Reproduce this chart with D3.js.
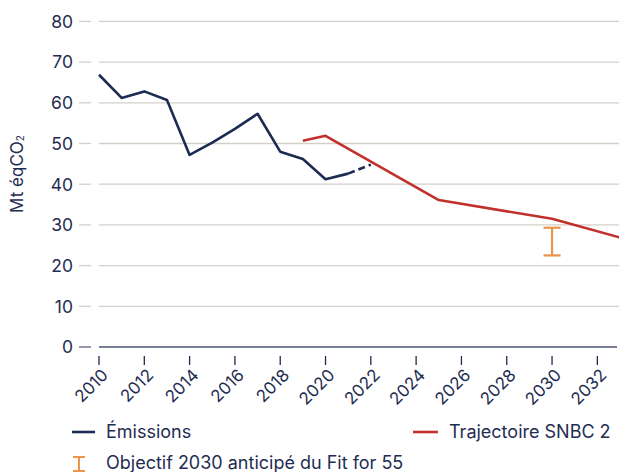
<!DOCTYPE html>
<html><head><meta charset="utf-8">
<script src="https://cdn.jsdelivr.net/npm/d3@7"></script>
<style>
body{margin:0;background:#fff;}
svg text{font-family:"Inter","Open Sans",sans-serif;fill:#1f2d52;}
</style></head>
<body><svg id="c" width="619" height="472"></svg>
<script>
const emissionYears = [2010,2011,2012,2013,2014,2015,2016,2017,2018,2019,2020,2021];
const emissionValues = [66.9,61.2,62.8,60.7,47.2,50.2,53.6,57.3,48.0,46.2,41.2,42.6];
const estimateYears = [2021,2022];
const estimateValues = [42.6,44.8];
const snbcYears = [2019,2020,2025,2030,2033];
const snbcValues = [50.7,51.9,36.1,31.5,26.9];
const targetYear = 2030;
const targetRange = [22.5,29.3];
const yTicks = [0,10,20,30,40,50,60,70,80];
const xTicks = [2010,2012,2014,2016,2018,2020,2022,2024,2026,2028,2030,2032];
const legendLabels = ["Émissions","Trajectoire SNBC 2","Objectif 2030 anticipé du Fit for 55"];

const navy="#1b2b52", red="#c1312c", orange="#e9954b", grid="#d3d0c8";
const svg=d3.select("#c");
const x=d3.scaleLinear().domain([2010,2033]).range([99,620]);
const y=d3.scaleLinear().domain([0,80]).range([347,21.4]);

const yg=svg.append("g");
yTicks.forEach(v=>{
  if(v>0) yg.append("line").attr("x1",99).attr("x2",619).attr("y1",y(v)).attr("y2",y(v)).attr("stroke",grid).attr("stroke-width",1.3);
  yg.append("line").attr("x1",79).attr("x2",91).attr("y1",y(v)).attr("y2",y(v)).attr("stroke",v===0?"#5a6480":grid).attr("stroke-width",1.3);
  yg.append("text").attr("x",73).attr("y",y(v)).attr("dy","0.36em").attr("text-anchor","end").attr("font-size",17.5).text(v);
});
svg.append("line").attr("x1",99).attr("x2",617).attr("y1",y(0)).attr("y2",y(0)).attr("stroke","#4a5572").attr("stroke-width",1.5);
xTicks.forEach(t=>{
  svg.append("line").attr("x1",x(t)).attr("x2",x(t)).attr("y1",356).attr("y2",365).attr("stroke",navy).attr("stroke-width",1.3);
  svg.append("text").attr("transform",`translate(${x(t)+6},${372}) rotate(-45)`).attr("dy","0.35em").attr("text-anchor","end").attr("font-size",17).text(t);
});
svg.append("text").attr("transform","translate(23,174) rotate(-90)").attr("text-anchor","middle").attr("font-size",17)
  .html('Mt éqCO<tspan font-size="10" dy="1">2</tspan>');

const line=d3.line().x(d=>x(d[0])).y(d=>y(d[1]));
svg.append("path").datum(emissionYears.map((d,i)=>[d,emissionValues[i]])).attr("d",line).attr("fill","none").attr("stroke",navy).attr("stroke-width",2.6).attr("stroke-linejoin","round");
svg.append("path").datum(estimateYears.map((d,i)=>[d,estimateValues[i]])).attr("d",line).attr("fill","none").attr("stroke",navy).attr("stroke-width",2.6).attr("stroke-dasharray","7,4");
svg.append("path").datum(snbcYears.map((d,i)=>[d,snbcValues[i]])).attr("d",line).attr("fill","none").attr("stroke",red).attr("stroke-width",2.6).attr("stroke-linejoin","round");
const tb=svg.append("g").attr("stroke",orange).attr("stroke-width",2.2);
tb.append("line").attr("x1",x(targetYear)).attr("x2",x(targetYear)).attr("y1",y(targetRange[0])).attr("y2",y(targetRange[1]));
[0,1].forEach(i=>tb.append("line").attr("x1",x(targetYear)-8.5).attr("x2",x(targetYear)+8.5).attr("y1",y(targetRange[i])).attr("y2",y(targetRange[i])));

const lg=svg.append("g");
lg.append("line").attr("x1",72).attr("x2",95).attr("y1",432).attr("y2",432).attr("stroke",navy).attr("stroke-width",2.6);
lg.append("text").attr("x",106).attr("y",438).attr("font-size",18).text(legendLabels[0]);
lg.append("line").attr("x1",413).attr("x2",438).attr("y1",432).attr("y2",432).attr("stroke",red).attr("stroke-width",2.6);
lg.append("text").attr("x",449).attr("y",438).attr("font-size",18).text(legendLabels[1]);
const lo=lg.append("g").attr("stroke",orange).attr("stroke-width",2);
lo.append("line").attr("x1",79).attr("x2",79).attr("y1",457).attr("y2",471);
lo.append("line").attr("x1",73).attr("x2",85).attr("y1",457).attr("y2",457);
lo.append("line").attr("x1",73).attr("x2",85).attr("y1",471).attr("y2",471);
lg.append("text").attr("x",106).attr("y",469).attr("font-size",18).text(legendLabels[2]);
</script></body></html>
